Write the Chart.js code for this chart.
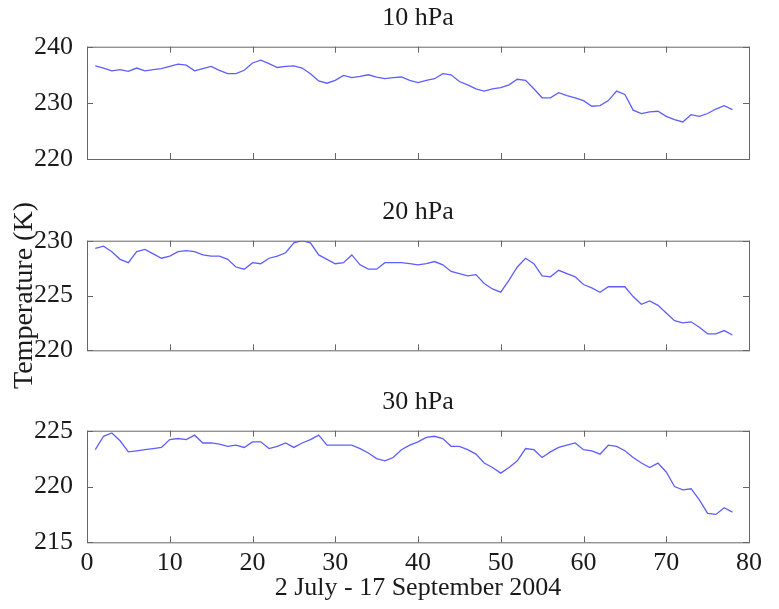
<!DOCTYPE html>
<html>
<head>
<meta charset="utf-8">
<script src="https://cdn.jsdelivr.net/npm/chart.js@4.4.1/dist/chart.umd.min.js"></script>
<style>
  body { margin: 0; background: #fff; }
  .panel { position: absolute; left: 0; width: 779px; }
</style>
</head>
<body>
<div class="panel" style="top:0px;height:178px"><canvas id="p10" width="779" height="178"></canvas></div>
<div class="panel" style="top:152px;height:252px"><canvas id="p20" width="779" height="252"></canvas></div>
<div class="panel" style="top:384px;height:225px"><canvas id="p30" width="779" height="225"></canvas></div>
<script>
const days = [1, 2, 3, 4, 5, 6, 7, 8, 9, 10, 11, 12, 13, 14, 15, 16, 17, 18, 19, 20,
    21, 22, 23, 24, 25, 26, 27, 28, 29, 30, 31, 32, 33, 34, 35, 36, 37, 38, 39, 40,
    41, 42, 43, 44, 45, 46, 47, 48, 49, 50, 51, 52, 53, 54, 55, 56, 57, 58, 59, 60,
    61, 62, 63, 64, 65, 66, 67, 68, 69, 70, 71, 72, 73, 74, 75, 76, 77, 78];

const temp10 = [236.6, 236.2, 235.7, 235.9, 235.6, 236.2, 235.7, 235.9, 236.1, 236.5,
    236.9, 236.7, 235.7, 236.1, 236.5, 235.8, 235.2, 235.2, 235.8, 237.1,
    237.6, 237.0, 236.3, 236.5, 236.6, 236.2, 235.2, 233.9, 233.5, 234.0,
    234.9, 234.5, 234.7, 235.0, 234.6, 234.3, 234.5, 234.6, 234.0, 233.6,
    234.0, 234.3, 235.2, 235.0, 233.8, 233.2, 232.5, 232.1, 232.5, 232.7,
    233.2, 234.2, 234.0, 232.5, 230.9, 230.9, 231.8, 231.3, 230.9, 230.4,
    229.4, 229.5, 230.4, 232.1, 231.5, 228.7, 228.1, 228.4, 228.5, 227.6,
    227.0, 226.6, 227.9, 227.6, 228.1, 228.9, 229.5, 228.8];

const temp20 = [229.3, 229.5, 229.0, 228.3, 228.0, 229.0, 229.2, 228.8, 228.4, 228.6,
    229.0, 229.1, 229.0, 228.7, 228.6, 228.6, 228.3, 227.6, 227.4, 228.0,
    227.9, 228.4, 228.6, 228.9, 229.8, 230.0, 229.8, 228.7, 228.3, 227.9,
    228.0, 228.7, 227.8, 227.4, 227.4, 228.0, 228.0, 228.0, 227.9, 227.8,
    227.9, 228.1, 227.8, 227.2, 227.0, 226.8, 226.9, 226.1, 225.6, 225.3,
    226.4, 227.6, 228.4, 227.9, 226.8, 226.7, 227.3, 227.0, 226.7, 226.0,
    225.7, 225.3, 225.8, 225.8, 225.8, 224.9, 224.2, 224.5, 224.1, 223.4,
    222.7, 222.5, 222.6, 222.1, 221.5, 221.5, 221.8, 221.4];

const temp30 = [223.3, 224.5, 224.8, 224.1, 223.1, 223.2, 223.3, 223.4, 223.5, 224.2,
    224.3, 224.2, 224.6, 223.9, 223.9, 223.8, 223.6, 223.7, 223.5, 224.0,
    224.0, 223.4, 223.6, 223.9, 223.5, 223.9, 224.2, 224.6, 223.7, 223.7,
    223.7, 223.7, 223.4, 223.0, 222.5, 222.3, 222.6, 223.3, 223.7, 224.0,
    224.4, 224.5, 224.3, 223.6, 223.6, 223.3, 222.9, 222.1, 221.7, 221.2,
    221.7, 222.3, 223.4, 223.3, 222.6, 223.1, 223.5, 223.7, 223.9, 223.3,
    223.2, 222.9, 223.7, 223.6, 223.2, 222.6, 222.1, 221.7, 222.1, 221.3,
    220.0, 219.7, 219.8, 218.8, 217.6, 217.5, 218.1, 217.7];

const xTicks = [0, 10, 20, 30, 40, 50, 60, 70, 80];

const FONT = "'Liberation Serif', 'Times New Roman', serif";
const TEXT = '#1a1a1a';

// matlab style box with inward ticks
const boxPlugin = {
    id: 'box',
    afterDraw(chart) {
        const { ctx, chartArea: a, scales: { x, y } } = chart;
        ctx.save();
        ctx.strokeStyle = '#666';
        ctx.lineWidth = 1;
        ctx.strokeRect(a.left + 0.5, a.top + 0.5, a.width, a.height);
        ctx.beginPath();
        x.ticks.forEach(t => {
            const px = Math.round(x.getPixelForValue(t.value)) + 0.5;
            ctx.moveTo(px, a.top); ctx.lineTo(px, a.top + 6);
            ctx.moveTo(px, a.bottom); ctx.lineTo(px, a.bottom - 6);
        });
        y.ticks.forEach(t => {
            const py = Math.round(y.getPixelForValue(t.value)) + 0.5;
            ctx.moveTo(a.left, py); ctx.lineTo(a.left + 6, py);
            ctx.moveTo(a.right, py); ctx.lineTo(a.right - 6, py);
        });
        ctx.stroke();
        ctx.restore();
    }
};

function makePanel(id, title, values, yMin, yMax, yStep, opts) {
    const showX = opts.showX;
    new Chart(document.getElementById(id), {
        type: 'line',
        data: {
            datasets: [{
                data: days.map((d, i) => ({ x: d, y: values[i] })),
                borderColor: 'rgba(40, 40, 255, 0.75)',
                borderWidth: 1.3,
                pointRadius: 0,
                tension: 0,
                fill: false
            }]
        },
        options: {
            responsive: false,
            animation: false,
            devicePixelRatio: 1,
            layout: { padding: { left: 0, right: 30, top: 0, bottom: opts.padBottom } },
            plugins: {
                legend: { display: false },
                tooltip: { enabled: false },
                title: {
                    display: true,
                    text: title,
                    fullSize: false,
                    color: TEXT,
                    font: { family: FONT, size: 26, weight: 'normal', lineHeight: 1 },
                    padding: { top: opts.padTitle, bottom: 15.7 }
                }
            },
            scales: {
                x: {
                    type: 'linear',
                    min: 0,
                    max: 80,
                    display: showX,
                    afterBuildTicks: s => { s.ticks = xTicks.map(v => ({ value: v })); },
                    grid: { display: false },
                    border: { display: false },
                    ticks: {
                        color: TEXT,
                        padding: 0,
                        maxRotation: 0,
                        font: { family: FONT, size: 26, lineHeight: 1 }
                    },
                    title: {
                        display: showX,
                        text: '2 July - 17 September 2004',
                        color: TEXT,
                        font: { family: FONT, size: 26, lineHeight: 1 },
                        padding: { top: 0, bottom: 8 }
                    },
                    afterFit: s => { if (showX) s.height = 66.7; }
                },
                y: {
                    min: yMin,
                    max: yMax,
                    grid: { display: false },
                    border: { display: false },
                    ticks: {
                        stepSize: yStep,
                        color: TEXT,
                        padding: 6,
                        font: { family: FONT, size: 26, lineHeight: 1 }
                    },
                    title: {
                        display: !!opts.yTitle,
                        text: 'Temperature (K)',
                        color: TEXT,
                        font: { family: FONT, size: 28, lineHeight: 1 },
                        padding: { top: 11, bottom: 0 }
                    },
                    afterFit: s => { s.width = 87; }
                }
            }
        },
        plugins: [boxPlugin]
    });
}

makePanel('p10', '10 hPa', temp10, 220, 240, 10, { showX: false, padTitle: 5, padBottom: 7.4 });
makePanel('p20', '20 hPa', temp20, 220, 230, 5, { showX: false, yTitle: true, padTitle: 47, padBottom: 53.7 });
makePanel('p30', '30 hPa', temp30, 215, 225, 5, { showX: true, padTitle: 5, padBottom: 0 });
</script>
</body>
</html>
